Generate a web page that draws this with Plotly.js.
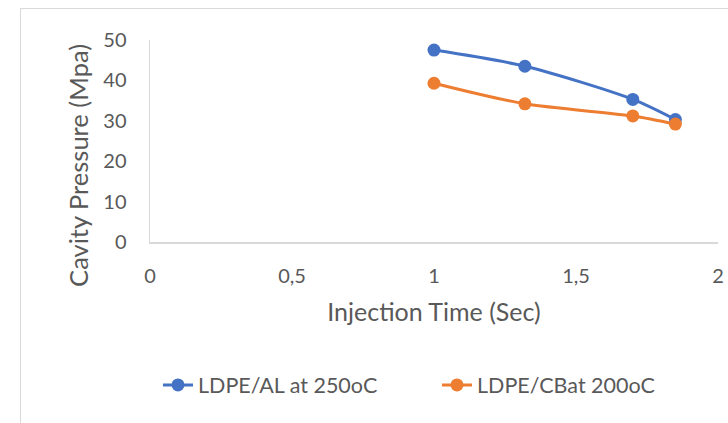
<!DOCTYPE html>
<html><head><meta charset="utf-8">
<script src="https://cdn.plot.ly/plotly-3.0.1.min.js"></script>
<style>
html,body{margin:0;padding:0;background:#fff;}
#wrap{position:relative;width:728px;height:423px;overflow:hidden;}
#chart{width:728px;height:423px;}
#frame{position:absolute;left:20px;top:8px;width:760px;height:460px;border:1.5px solid #d9d9d9;pointer-events:none;}
</style></head>
<body><div id="wrap"><div id="chart"></div><div id="frame"></div></div>
<script>
const timeAL = [1, 1.32, 1.70, 1.85];
const pressureAL = [47.5, 43.5, 35.3, 30.3];
const timeCB = [1, 1.32, 1.70, 1.85];
const pressureCB = [39.3, 34.2, 31.2, 29.2];
const nameAL = 'LDPE/AL at 250oC';
const nameCB = 'LDPE/CBat 200oC';
const xTicks = [0, 0.5, 1, 1.5, 2];
const yTicks = [0, 10, 20, 30, 40, 50];

const font = "Lato, 'Open Sans', sans-serif";
const traces = [
  {x: timeAL, y: pressureAL, name: nameAL, type: 'scatter', mode: 'lines+markers', legend: 'legend',
   line: {color: '#4472c4', width: 3, shape: 'spline', smoothing: 0.8},
   marker: {color: '#4472c4', size: 13}},
  {x: timeCB, y: pressureCB, name: nameCB, type: 'scatter', mode: 'lines+markers', legend: 'legend2',
   line: {color: '#ed7d31', width: 3, shape: 'spline', smoothing: 0.8},
   marker: {color: '#ed7d31', size: 13}}
];
const legendBase = {orientation: 'h', xref: 'container', yref: 'container', xanchor: 'left',
                    y: 0.09, yanchor: 'middle', font: {size: 21.5, color: '#595959'}};
const layout = {
  width: 728, height: 423,
  margin: {l: 150, r: 10, t: 40, b: 181, autoexpand: false},
  paper_bgcolor: '#fff', plot_bgcolor: '#fff',
  separators: ',.',
  font: {family: font, color: '#595959', size: 20},
  showlegend: true,
  legend: Object.assign({}, legendBase, {x: 158 / 728}),
  legend2: Object.assign({}, legendBase, {x: 437 / 728}),
  xaxis: {range: [0, 2], tickvals: xTicks, ticktext: xTicks.map(v => String(v).replace('.', ',')),
          automargin: false, showgrid: false, zeroline: false, showline: true,
          linecolor: '#d9d9d9', linewidth: 1.5,
          ticks: '', ticklabelstandoff: 15, tickfont: {size: 20, color: '#595959'},
          title: {text: 'Injection Time (Sec)', font: {size: 25, color: '#595959'}, standoff: 18}},
  yaxis: {range: [0, 50], tickvals: yTicks, automargin: false, showgrid: false, zeroline: false,
          showline: true, linecolor: '#d9d9d9', linewidth: 1.5, ticks: '',
          ticklabelstandoff: 18, tickfont: {size: 20, color: '#595959'}},
  annotations: [{text: 'Cavity Pressure (Mpa)', textangle: -90, xref: 'paper', yref: 'paper',
                 x: -0.127, y: 0.381, xanchor: 'center', yanchor: 'middle', showarrow: false,
                 font: {size: 25.5, color: '#595959'}}]
};
Plotly.newPlot('chart', traces, layout, {displayModeBar: false, staticPlot: true});
</script></body></html>
